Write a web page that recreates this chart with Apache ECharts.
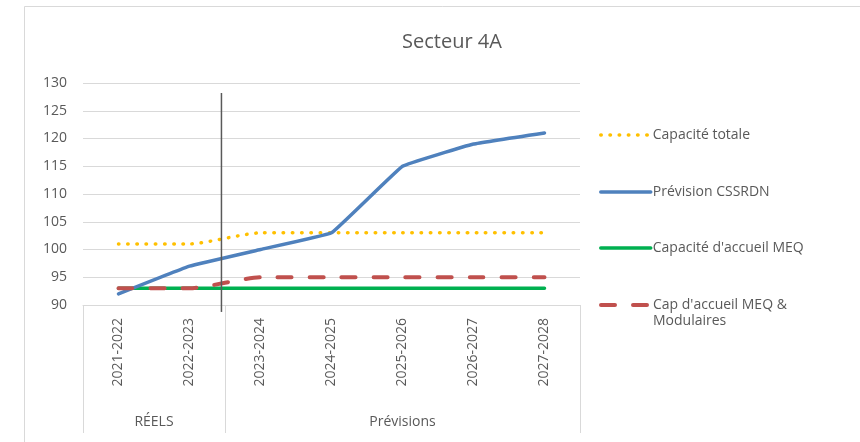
<!DOCTYPE html>
<html>
<head>
<meta charset="utf-8">
<script src="https://cdn.jsdelivr.net/npm/echarts@6/dist/echarts.min.js"></script>
<style>html,body{margin:0;padding:0;background:#fff}#c{width:860px;height:442px}</style>
</head>
<body>
<div id="c"></div>
<script>
var title = 'Secteur 4A';
var categories = ['2021-2022','2022-2023','2023-2024','2024-2025','2025-2026','2026-2027','2027-2028'];
var groups = [{name:'RÉELS', from:0, to:2}, {name:'Prévisions', from:2, to:7}];
var capaciteTotale = [101, 101, 103, 103, 103, 103, 103];
var previsionCSSRDN = [92, 97, 100, 103, 115, 119, 121];
var capaciteMEQ = [93, 93, 93, 93, 93, 93, 93];
var capMEQModulaires = [93, 93, 95, 95, 95, 95, 95];
var seriesNames = ['Capacité totale', 'Prévision CSSRDN', "Capacité d'accueil MEQ", "Cap d'accueil MEQ &"];
var legendSecondLine = 'Modulaires';
var yTicks = [90, 95, 100, 105, 110, 115, 120, 125, 130];
var dividerAt = 1.95; // position between RÉELS and Prévisions (category units)

var FONT = '"Open Sans", "Noto Sans", sans-serif';
var TXT = '#595959';
var chart = echarts.init(document.getElementById('c'), null, {renderer:'canvas'});

var GL = 83, GR = 280, GT = 83, GB = 137;

function legendFor(i, top, w) {
  return {
    show: true, left: 594, top: top, orient: 'vertical',
    data: [seriesNames[i]], itemWidth: 50, itemHeight: 14, itemGap: 0,
    itemStyle: {opacity: 0, borderWidth: 0},
    lineStyle: {width: w, cap: 'round'},
    textStyle: {color: TXT, fontSize: 14, fontFamily: FONT, padding: [0, 0, 0, -3]},
    selectedMode: false
  };
}

var option = {
  animation: false,
  backgroundColor: '#fff',
  title: {text: title, left: 447, top: 27, textAlign: 'center',
    textStyle: {color: TXT, fontSize: 20, fontWeight: 'normal', fontFamily: FONT}},
  grid: {left: GL, right: GR, top: GT, bottom: GB, containLabel: false},
  legend: [legendFor(0, 123, 3.5), legendFor(1, 180, 3.5), legendFor(2, 236, 3.5), legendFor(3, 293, 4)],
  xAxis: [{
    type: 'category', data: categories, boundaryGap: true,
    axisLine: {show: true, lineStyle: {color: '#d9d9d9', width: 1}},
    axisTick: {show: false},
    axisLabel: {rotate: 90, margin: 13, color: TXT, fontSize: 14, fontFamily: FONT},
    splitLine: {show: false}
  }, {
    type: 'value', min: 0, max: categories.length, show: false
  }],
  yAxis: {
    type: 'value', min: yTicks[0], max: yTicks[yTicks.length-1], interval: 5,
    axisLine: {show: false}, axisTick: {show: false},
    axisLabel: {color: TXT, fontSize: 14, fontFamily: FONT, margin: 16},
    splitLine: {lineStyle: {color: '#d9d9d9', width: 1}}
  },
  series: [
    {name: seriesNames[0], type: 'line', data: capaciteTotale, symbol: 'none', smooth: 0.2, z: 3,
      itemStyle: {color: '#FFC000'},
      lineStyle: {color: '#FFC000', width: 3.5, type: [0.5, 8.7], cap: 'round'}},
    {name: seriesNames[1], type: 'line', data: previsionCSSRDN, symbol: 'none', smooth: 0.07, z: 4,
      itemStyle: {color: '#4F81BD'},
      lineStyle: {color: '#4F81BD', width: 3.5, cap: 'round'}},
    {name: seriesNames[2], type: 'line', data: capaciteMEQ, symbol: 'none', z: 2,
      itemStyle: {color: '#00B050'},
      lineStyle: {color: '#00B050', width: 3.5, cap: 'round'}},
    {name: seriesNames[3], type: 'line', data: capMEQModulaires, symbol: 'none', smooth: 0.2, z: 5,
      itemStyle: {color: '#C0504D'},
      lineStyle: {color: '#C0504D', width: 4, type: [14, 18], cap: 'round'}},
    {name: 'divider', type: 'line', xAxisIndex: 1, clip: false, symbol: 'none', silent: true, z: 6,
      data: [[dividerAt, 128.2], [dividerAt, 88.75]],
      lineStyle: {color: '#595959', width: 1.5}}
  ]
};
chart.setOption(option);

var y0 = chart.convertToPixel({yAxisIndex: 0}, yTicks[0]);
var boxBottom = 433;
var graphics = [
  {type: 'line', shape: {x1: 24.5, y1: 6.5, x2: 860, y2: 6.5}, style: {stroke: '#d9d9d9', lineWidth: 1}},
  {type: 'line', shape: {x1: 24.5, y1: 6.5, x2: 24.5, y2: 442}, style: {stroke: '#d9d9d9', lineWidth: 1}}
];
var bounds = [];
groups.forEach(function (g) {
  var xa = chart.convertToPixel({xAxisIndex: 1}, g.from);
  var xb = chart.convertToPixel({xAxisIndex: 1}, g.to);
  bounds.push(xa); bounds.push(xb);
  graphics.push({type: 'text', x: (xa + xb) / 2, y: 422,
    style: {text: g.name, fill: TXT, fontSize: 14, fontFamily: FONT, align: 'center', verticalAlign: 'middle'}});
});
var seen = {};
bounds.forEach(function (x) {
  var k = Math.round(x);
  if (seen[k]) return; seen[k] = true;
  graphics.push({type: 'line', shape: {x1: k + 0.5, y1: y0, x2: k + 0.5, y2: boxBottom},
    style: {stroke: '#d9d9d9', lineWidth: 1}});
});
graphics.push({type: 'text', x: 653, y: 314,
  style: {text: legendSecondLine, fill: TXT, fontSize: 14, fontFamily: FONT, align: 'left', verticalAlign: 'top'}});
chart.setOption({graphic: graphics});
</script>
</body>
</html>
